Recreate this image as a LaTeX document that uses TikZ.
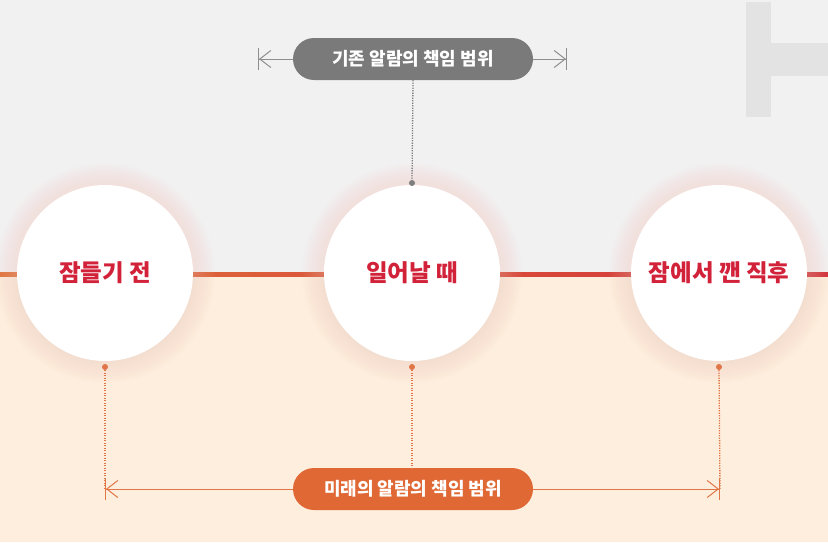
\documentclass[tikz,border=0pt]{standalone}
\usepackage{fontspec}
\newfontfamily\kr{Noto Sans CJK KR}
\usetikzlibrary{arrows.meta}
\definecolor{bgtop}{HTML}{F1F1F1}
\definecolor{bgbot}{HTML}{FEEEDD}
\definecolor{hgray}{HTML}{E3E3E3}
\definecolor{lineor}{HTML}{E0703A}
\definecolor{linemid}{HTML}{D8583C}
\definecolor{linered}{HTML}{D3303A}
\definecolor{txtred}{HTML}{D2223A}
\definecolor{pillgray}{HTML}{7A7A7A}
\definecolor{pillor}{HTML}{E06834}
\definecolor{glow}{HTML}{F2C6B8}
\definecolor{dotgray}{HTML}{7E7E7E}
\definecolor{arrgray}{HTML}{8E8E8E}
\definecolor{arror}{HTML}{E07648}
\tikzset{
  bubble/.style={circle, fill=white, minimum size=176pt, inner sep=0pt,
    font=\kr\bfseries\fontsize{23.5}{27}\selectfont, text=txtred},
  pill/.style={rounded corners=21pt, minimum width=240pt, minimum height=42pt,
    inner sep=0pt, text=white, font=\kr\bfseries\fontsize{18}{21}\selectfont},
  endtip/.style={-{Straight Barb[length=11pt,width=17pt,line width=1pt]Bar[width=22pt,line width=1pt]}},
  dotmark/.style={circle, inner sep=0pt, minimum size=6pt},
  vdots/.style={line width=1.3pt, dash pattern=on 1.2pt off 1.3pt},
}
\begin{document}
\begin{tikzpicture}[x=1pt,y=-1pt]
\useasboundingbox (0,0) rectangle (828,542);
\fill[bgtop] (0,0) rectangle (828,273);
\fill[bgbot] (0,273) rectangle (828,542);
\fill[hgray] (746,2) rectangle (771,117);
\fill[hgray] (771,43) rectangle (828,76);
\shade[left color=lineor, middle color=linemid, right color=linered] (0,272) rectangle (828,276);
% glows
\foreach \x in {105,412,719}{
  \foreach \r in {110,108,...,88}{
    \fill[glow, opacity=0.03] (\x,273) circle (\r);
  }
}
\node[bubble] (c1) at (105,273) {잠들기 전};
\node[bubble] (c2) at (412,273) {일어날 때};
\node[bubble] (c3) at (719,273) {잠에서 깬 직후};
% top range
\node[pill, fill=pillgray] (p1) at (413,59) {기존 알람의 책임 범위};
\coordinate (tl) at (258,59);
\coordinate (tr) at (567,59);
\draw[arrgray, line width=1pt, endtip] (p1.west) -- (tl);
\draw[arrgray, line width=1pt, endtip] (p1.east) -- (tr);
\node[dotmark, fill=dotgray] (d0) at (412,183) {};
\draw[dotgray, vdots] (p1.south) -- (d0);
% bottom range
\node[pill, fill=pillor] (p2) at (413,489) {미래의 알람의 책임 범위};
\coordinate (bl) at (105,489);
\coordinate (br) at (720,489);
\node[dotmark, fill=arror] (d1) at (105,367) {};
\node[dotmark, fill=arror] (d2) at (412,367) {};
\node[dotmark, fill=arror] (d3) at (719,367) {};
\draw[arror, vdots] (d1) -- (bl);
\draw[arror, vdots] (d2) -- (p2.north -| d2);
\draw[arror, vdots] (d3) -- (br);
\draw[arror, line width=1pt, endtip] (p2.west) -- (bl);
\draw[arror, line width=1pt, endtip] (p2.east) -- (br);
\end{tikzpicture}
\end{document}
